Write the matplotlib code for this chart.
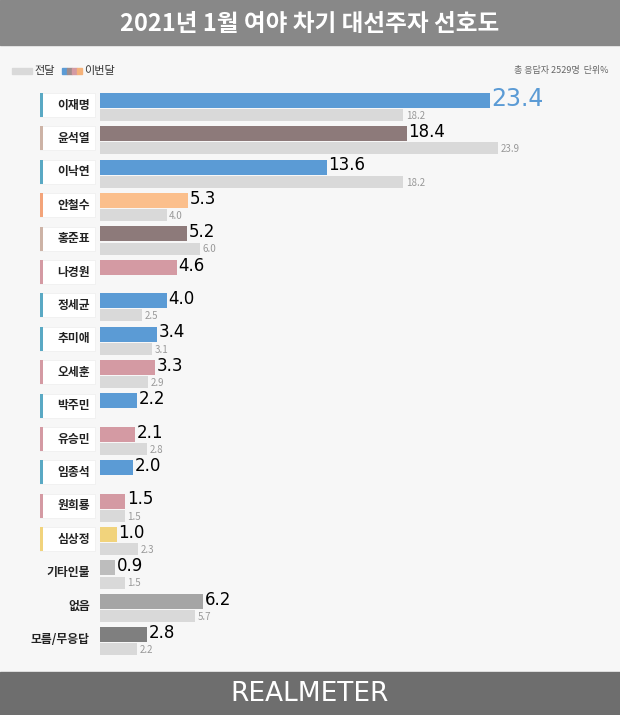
import matplotlib
matplotlib.use("Agg")
import matplotlib.pyplot as plt
from matplotlib.patches import Rectangle

plt.rcParams['font.family'] = ['Noto Sans CJK KR', 'DejaVu Sans']

names = ['이재명','윤석열','이낙연','안철수','홍준표','나경원','정세균','추미애','오세훈','박주민',
         '유승민','임종석','원희룡','심상정','기타인물','없음','모름/무응답']
current = [23.4,18.4,13.6,5.3,5.2,4.6,4.0,3.4,3.3,2.2,2.1,2.0,1.5,1.0,0.9,6.2,2.8]
previous = [18.2,23.9,18.2,4.0,6.0,None,2.5,3.1,2.9,None,2.8,None,1.5,2.3,1.5,5.7,2.2]
colors = ['#5b9bd5','#8d7a7a','#5b9bd5','#fbbf8c','#8d7a7a','#d49aa3','#5b9bd5','#5b9bd5','#d49aa3',
          '#5b9bd5','#d49aa3','#5b9bd5','#d49aa3','#f1d37c','#bdbdbd','#a5a5a5','#7f7f7f']
tabs = ['#5aa9c4','#cdb3a6','#5aa9c4','#f3a47a','#cdb3a6','#d49aa3','#5aa9c4','#5aa9c4','#d49aa3',
        '#5aa9c4','#d49aa3','#5aa9c4','#d49aa3','#f1d37c',None,None,None]

W, H = 620, 715
fig = plt.figure(figsize=(6.2, 7.15), dpi=100)
fig.patch.set_facecolor('#f7f7f7')
# header / footer
fig.patches.append(Rectangle((0, 1-45/H), 1, 45/H, transform=fig.transFigure, color='#888888', zorder=0))
fig.patches.append(Rectangle((0, 0), 1, 43/H, transform=fig.transFigure, color='#6e6e6e', zorder=0))
fig.text(0.5, 1-24/H, '2021년 1월 여야 차기 대선주자 선호도', color='white', fontsize=17,
         fontweight='bold', ha='center', va='center')
fig.text(310/W, 21/H, 'REALMETER', color='white', fontsize=19, ha='center', va='center',
         family=['Liberation Sans Narrow', 'DejaVu Sans'])
# legend
fig.patches.append(Rectangle((12/W, 1-74/H), 20/W, 6/H, transform=fig.transFigure, color='#d9d9d9'))
fig.text(34/W, 1-71/H, '전달', fontsize=8, va='center', color='#333')
for k, c in enumerate(['#5b9bd5','#a08c8c','#d49aa3','#f5b27a']):
    fig.patches.append(Rectangle((62/W+k*5/W, 1-74/H), 5/W, 6/H, transform=fig.transFigure, color=c))
fig.text(84/W, 1-71/H, '이번달', fontsize=8, va='center', color='#333')
fig.text(608/W, 1-71/H, '총 응답자 2529명  단위%', fontsize=6.5, va='center', ha='right', color='#666')

top, bot = 85, 655
ax = fig.add_axes([100/W, 1-bot/H, 520/W, (bot-top)/H])
ax.set_facecolor('none')
ax.set_xlim(0, 520/16.67)
ax.set_ylim(-0.66 + (bot-top)/33.4, -0.66)
ax.axis('off')

for i in range(len(names)):
    ax.barh(i-0.2, current[i], height=0.45, color=colors[i])
    big = i == 0
    ax.text(current[i]+0.1, i-0.25, f'{current[i]:.1f}', fontsize=17 if big else 12,
            color='#5b9bd5' if big else 'black', va='center', ha='left', family=['DejaVu Sans'])
    if previous[i] is not None:
        ax.barh(i+0.24, previous[i], height=0.36, color='#d9d9d9')
        ax.text(previous[i]+0.15, i+0.26, f'{previous[i]:.1f}', fontsize=7, color='#999',
                va='center', ha='left')
    if tabs[i] is not None:
        ax.add_patch(Rectangle((-60/16.67, i-0.42), 55/16.67, 0.72, facecolor='white',
                               edgecolor='#eee', lw=0.5, clip_on=False))
        ax.add_patch(Rectangle((-60/16.67, i-0.42), 2.5/16.67, 0.72, facecolor=tabs[i],
                               lw=0, clip_on=False))
    ax.text(-10/16.67, i-0.06, names[i], fontsize=8.5, fontweight='bold', ha='right', va='center',
            color='#222')

fig.savefig('out.png', dpi=100, facecolor=fig.get_facecolor())
